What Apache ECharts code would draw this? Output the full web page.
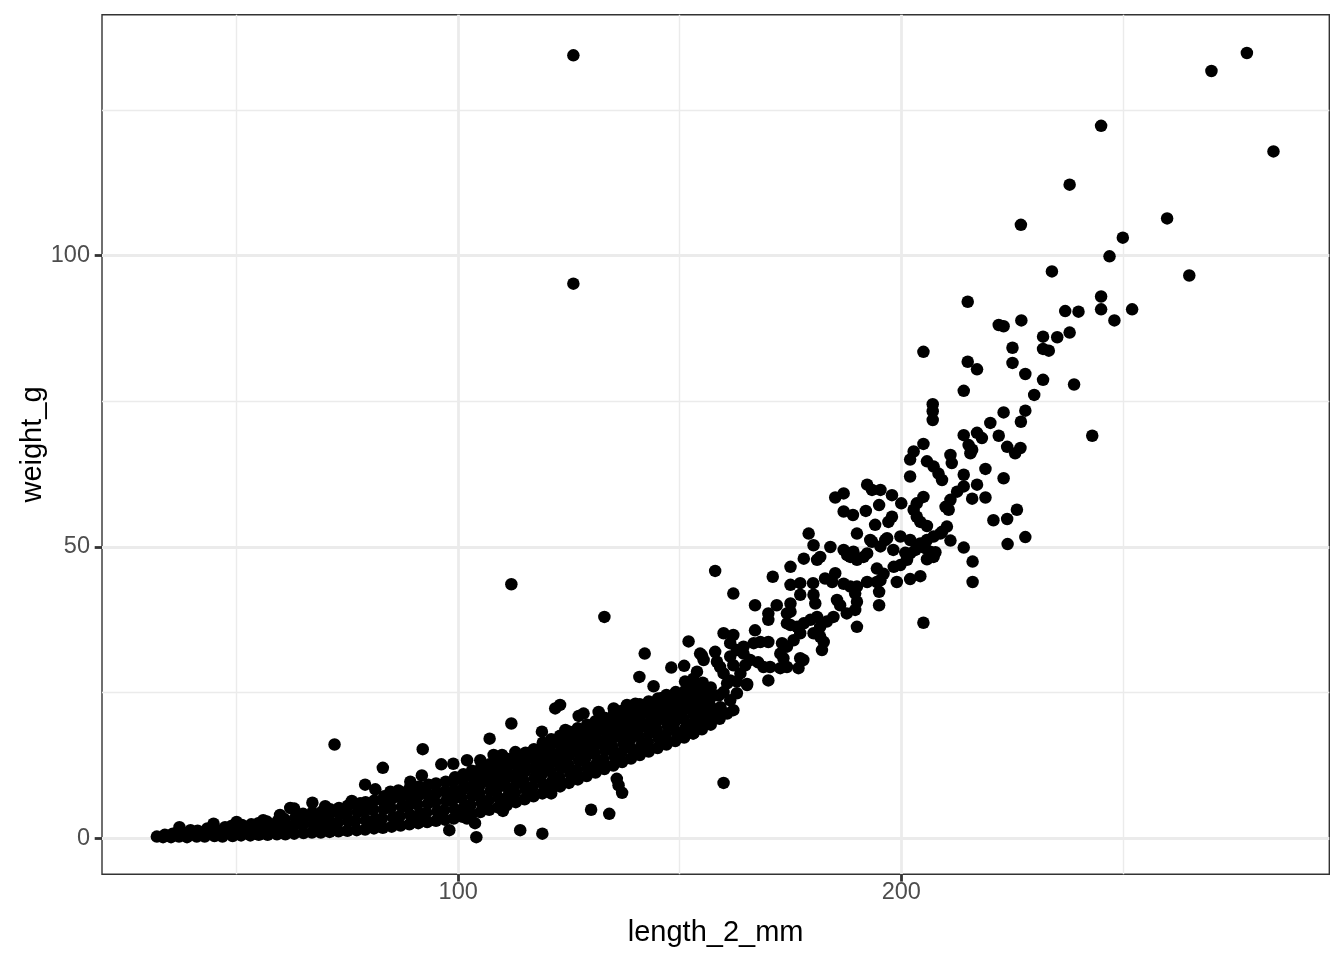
<!DOCTYPE html>
<html>
<head>
<meta charset="utf-8">
<script src="https://cdn.jsdelivr.net/npm/echarts@6/dist/echarts.min.js"></script>
<style>html,body{margin:0;padding:0;background:#fff}#chart{width:1344px;height:960px}</style>
</head>
<body>
<div id="chart"></div>
<script>
// Axis tick labels / gridlines
const xTicks = [100, 200];
const yTicks = [0, 50, 100];
const xMinorGrid = [50, 150, 250];
const yMinorGrid = [25, 75, 125];

// Main dense band of fish (length_2_mm, weight_g)
const bandPoints = [
[33.4,0.2],[33.8,0.6],[35.2,0.2],[35.6,0.8],[37.0,0.3],[37.4,1.1],[38.8,0.2],[39.3,1.0],[39.6,1.4],
[41.0,0.3],[41.2,1.3],[42.8,0.3],[43.1,1.2],[43.4,1.7],[45.0,0.4],[45.3,1.5],[46.8,0.3],[47.0,1.2],[47.4,1.9],
[49.1,0.4],[49.0,1.5],[48.8,2.1],[51.0,0.5],[51.3,1.4],[51.2,2.3],[53.1,0.5],[52.8,1.5],[53.3,2.4],
[55.0,0.6],[55.2,1.6],[54.9,2.6],[57.0,0.6],[57.3,1.8],[56.8,2.9],[59.1,0.7],[58.8,1.9],[59.3,3.0],
[61.0,0.7],[61.2,2.0],[60.8,3.3],[63.0,0.8],[62.8,2.2],[63.3,3.6],
[65.1,0.9],[64.9,2.3],[65.2,3.7],[65.0,4.2],[67.0,1.0],[67.3,2.4],[66.8,3.8],[67.1,4.4],
[69.0,1.0],[69.2,2.5],[68.9,3.9],[69.3,4.6],[71.0,1.1],[71.3,2.6],[70.8,4.0],[71.1,5.0],
[73.0,1.2],[72.8,2.7],[73.3,4.1],[73.1,5.2],[75.0,1.3],[75.2,2.9],[74.8,4.3],[75.1,5.6],
[77.1,1.4],[76.8,3.0],[77.3,4.5],[77.0,5.9],[79.0,1.5],[79.2,3.1],[78.8,4.7],[79.1,6.2],
[81.0,1.7],[81.3,3.3],[80.8,4.9],[81.1,6.5],[83.0,1.8],[82.8,3.4],[83.2,5.0],[83.0,6.5],[83.3,7.2],
[85.0,2.0],[85.3,3.6],[84.8,5.2],[85.1,6.8],[85.2,7.5],[87.0,2.2],[86.8,3.8],[87.3,5.4],[87.0,7.0],[87.1,7.9],
[89.0,2.4],[89.2,4.0],[88.8,5.6],[89.1,7.2],[89.0,8.5],[91.0,2.6],[91.3,4.2],[90.8,5.8],[91.1,7.4],[91.2,8.9],
[93.0,2.8],[92.8,4.4],[93.2,6.0],[93.0,7.6],[93.3,9.2],[95.0,3.0],[95.3,4.6],[94.8,6.2],[95.1,7.8],[95.0,9.4],
[97.0,3.2],[96.8,4.8],[97.3,6.4],[97.0,8.0],[97.2,9.7],
[99.0,3.4],[99.2,5.0],[98.8,6.6],[99.1,8.2],[99.0,9.8],[99.3,10.5],
[101.0,3.7],[101.3,5.3],[100.8,6.9],[101.1,8.5],[101.0,10.1],[101.2,11.0],
[103.0,4.1],[102.8,5.7],[103.2,7.3],[103.0,8.9],[103.3,10.5],[103.1,11.6],
[105.0,4.5],[105.3,6.1],[104.8,7.7],[105.1,9.3],[105.0,10.9],[105.2,12.2],
[107.0,4.9],[106.8,6.5],[107.3,8.1],[107.0,9.7],[107.2,11.3],[107.1,12.7],
[109.0,5.3],[109.2,6.9],[108.8,8.5],[109.1,10.1],[109.0,11.7],[109.3,13.2],
[111.0,5.7],[111.3,7.3],[110.8,8.9],[111.1,10.5],[111.0,12.1],[111.2,13.6],
[113.0,6.2],[112.8,7.8],[113.2,9.4],[113.0,11.0],[113.3,12.6],[113.1,14.1],
[115.0,6.7],[115.3,8.3],[114.8,9.9],[115.1,11.5],[115.0,13.1],[115.2,14.7],
[117.0,7.2],[116.8,8.8],[117.3,10.4],[117.0,12.0],[117.2,13.6],[117.1,15.3],
[119.0,7.7],[119.2,9.3],[118.8,10.9],[119.1,12.5],[119.0,14.1],[119.3,15.7],[119.1,16.4],
[121.0,8.3],[121.3,9.9],[120.8,11.5],[121.1,13.1],[121.0,14.7],[121.2,16.3],[121.0,17.0],
[123.0,8.9],[122.8,10.5],[123.2,12.1],[123.0,13.7],[123.3,15.3],[123.1,16.9],[123.0,17.6],
[125.0,9.5],[125.3,11.1],[124.8,12.7],[125.1,14.3],[125.0,15.9],[125.2,17.5],[125.1,18.3],
[127.0,10.1],[126.8,11.7],[127.3,13.3],[127.0,14.9],[127.2,16.5],[127.1,18.1],[127.0,18.9],
[129.0,10.7],[129.2,12.3],[128.8,13.9],[129.1,15.5],[129.0,17.1],[129.3,18.7],[129.1,19.5],
[131.0,11.3],[131.3,12.9],[130.8,14.5],[131.1,16.1],[131.0,17.7],[131.2,19.3],[131.0,20.1],
[133.0,11.9],[132.8,13.5],[133.2,15.1],[133.0,16.7],[133.3,18.3],[133.1,19.9],[133.0,20.7],
[135.0,12.5],[135.3,14.1],[134.8,15.7],[135.1,17.3],[135.0,18.9],[135.2,20.5],[135.1,21.3],
[137.0,13.1],[136.8,14.7],[137.3,16.3],[137.0,17.9],[137.2,19.5],[137.1,21.1],[137.0,21.9],
[139.0,13.7],[139.2,15.3],[138.8,16.9],[139.1,18.5],[139.0,20.1],[139.3,21.7],[139.1,22.5],
[141.0,14.3],[141.3,15.9],[140.8,17.5],[141.1,19.1],[141.0,20.7],[141.2,22.3],[141.0,23.0],
[143.0,14.9],[142.8,16.5],[143.2,18.1],[143.0,19.7],[143.3,21.3],[143.1,22.9],[143.0,23.5],
[145.0,15.5],[145.3,17.1],[144.8,18.7],[145.1,20.3],[145.0,21.9],[145.2,23.5],[145.1,24.0],
[147.0,16.1],[146.8,17.7],[147.3,19.3],[147.0,20.9],[147.2,22.5],[147.1,24.1],[147.0,24.6],
[149.0,16.7],[149.2,18.3],[148.8,19.9],[149.1,21.5],[149.0,23.1],[149.3,24.6],[149.1,25.1],
[151.0,17.3],[151.3,18.9],[150.8,20.5],[151.1,22.1],[151.0,23.7],[151.2,25.3],
[153.0,18.0],[152.8,19.6],[153.2,21.2],[153.0,22.8],[153.3,24.4],[153.1,26.0],
[155.0,18.7],[155.3,20.3],[154.8,21.9],[155.1,23.5],[155.0,25.1],[155.2,26.7],
[157.0,19.5],[157.2,21.1],[156.9,22.7],[157.1,24.3],[157.0,25.9],
[159.0,20.5],[159.2,22.5],[158.8,24.5]
];

// Scattered fish around and beyond the band
const sparsePoints = [
[167.0,40.0],[171.9,40.0],[170.0,38.6],[170.0,37.5],[174.2,38.6],[167.0,35.7],[174.2,36.9],[162.1,34.9],
[159.9,35.2],[158.0,32.0],[158.4,30.3],[161.4,33.5],[162.9,32.3],[164.4,32.9],[166.7,33.5],[168.2,33.7],
[170.0,33.7],[173.1,33.5],[161.4,31.2],[162.1,29.7],[164.8,29.7],[167.7,30.2],[170.4,29.4],[172.7,29.2],
[174.2,29.4],[161.4,27.1],[162.9,26.9],[165.2,26.5],[170.0,27.1],[159.9,25.1],[161.4,23.7],[162.1,22.0],
[160.7,21.4],[157.6,22.0],[156.1,20.8],[154.6,20.3],[153.1,18.0],[159.9,9.5],[165.9,30.6],[164.4,31.7],
[168.9,29.4],[172.7,31.7],[175.7,34.0],[174.2,32.9],[177.2,35.2],[173.4,30.9],[177.2,30.9],[177.9,30.6],
[176.8,29.2],[159.1,29.4],[159.9,28.3],[160.7,26.6],[162.9,24.9],[165.2,26.3],[154.6,31.7],[155.4,30.6],
[163.7,28.3],[180.2,35.2],[181.7,34.6],[182.5,33.7],[182.1,32.3],[181.0,38.0],[179.5,37.5],[178.0,36.9],
[176.5,36.3],[175.0,36.6],[185.5,40.9],[186.2,40.0],[184.7,38.0],[183.2,37.2],[181.7,36.3],[175.0,40.3],
[175.0,38.9],[175.0,43.5],[177.2,43.8],[180.1,43.8],[177.2,41.8],[180.2,41.8],[180.6,40.3],[171.0,44.9],
[162.1,42.0],[158.0,45.9],[190.0,36.3],[190.0,43.2],[189.6,42.0],[190.0,40.6],[189.6,39.2],[187.7,38.6],
[195.0,42.3],[195.0,40.0],[192.3,44.0],[194.5,44.0],[195.3,44.3],[196.0,45.4],[194.5,46.3],[199.0,44.0],
[202.0,44.5],[204.3,45.0],[199.8,46.9],[198.3,46.6],[185.1,45.5],[187.0,43.7],[188.5,43.2],[182.8,44.6],
[184.4,44.0],[175.0,46.6],[178.0,48.0],[181.0,47.8],[181.7,48.3],[179.1,52.3],[180.2,50.3],[184.0,50.0],
[185.1,58.5],[187.0,59.2],[187.0,56.1],[189.1,55.5],[190.0,52.3],[192.3,60.7],[193.4,59.8],[195.3,59.8],
[197.9,58.9],[200.0,57.5],[195.0,57.2],[192.0,56.2],[197.9,55.2],[197.1,54.3],[194.1,53.8],[187.0,49.5],
[188.5,48.3],[190.0,47.8],[191.5,48.3],[192.3,48.9],[193.0,51.2],[195.3,50.1],[196.4,51.2],[196.8,51.5],
[199.8,51.8],[202.0,51.2],[198.2,49.5],[200.9,49.0],[203.2,49.5],[205.4,49.8],[207.7,49.1],[207.3,48.3],
[205.8,47.9],[204.3,50.6],[205.8,51.2],[207.3,51.8],[208.8,52.3],[210.3,53.5],[211.1,51.1],[214.1,49.9],
[216.1,47.5],[216.1,44.0],[205.0,37.0],[224.0,50.5],[228.0,51.7],[205.0,58.6],[203.5,57.5],[202.8,56.4],
[203.5,55.2],[204.3,54.3],[205.8,53.6],[207.1,71.8],[207.1,73.3],[207.1,74.5],[220.1,71.3],[227.0,71.5],
[214.1,69.2],[217.1,69.6],[218.2,68.7],[222.0,69.1],[205.0,67.7],[202.8,66.4],[202.0,65.0],[205.8,64.7],
[207.3,63.8],[208.4,62.6],[209.2,61.5],[211.1,65.8],[211.4,64.4],[215.2,67.5],[216.0,66.7],[215.6,66.1],
[223.9,67.2],[225.7,66.1],[226.9,67.0],[219.0,63.4],[223.1,61.8],[202.0,62.1],[214.1,62.4],[217.1,60.7],
[214.1,60.4],[212.6,59.5],[211.1,58.1],[210.0,56.9],[210.7,56.4],[219.0,58.5],[216.0,58.3],[226.1,56.4],
[223.9,54.8],[220.8,54.6],[209.2,52.6],[223.1,73.1],[228.0,73.4],[230.0,76.1],[214.1,76.8],[232.0,78.7],
[239.0,77.9],[228.0,79.7],[225.1,81.6],[217.1,80.5],[215.0,81.8],[205.0,83.5],[232.0,84.0],[233.3,83.7],
[225.1,84.2],[232.0,86.1],[235.2,86.0],[238.0,86.8],[222.0,88.1],[223.1,87.9],[227.1,88.9],[237.0,90.5],
[240.0,90.4],[245.1,93.0],[245.1,90.8],[248.1,88.9],[252.1,90.8],[215.0,92.1],[247.0,99.9],[234.0,97.3],
[243.1,69.1],[278.0,134.8],[270.0,131.7],[245.1,122.3],[284.0,117.9],[238.0,112.2],[227.0,105.3],
[260.0,106.4],[250.0,103.1],[265.0,96.6],[201.3,47.8],[202.0,48.9],[206.5,49.2],[189.2,49.2],[193.4,50.9],
[187.8,48.6],[133.0,38.0],[152.0,33.8],[142.1,31.7],[155.0,31.4],[148.1,29.3],[151.0,29.6],[140.9,27.7],
[144.1,26.1],[146.0,24.1],[149.0,24.8],[153.9,28.6],[153.1,27.4],[151.2,26.9],[123.0,22.9],[127.2,21.0],
[128.3,21.4],[131.7,21.7],[135.1,22.3],[138.1,22.9],[140.0,23.1],[143.0,22.9],[121.9,22.3],[112.0,19.7],
[107.1,17.1],[118.9,18.3],[124.2,18.6],[112.0,43.6],[126.0,134.4],[126.0,95.2],[72.1,16.1],[92.0,15.3],
[83.0,12.1],[96.2,12.7],[79.0,9.2],[81.3,8.4],[91.8,10.8],[89.2,9.7],[63.0,5.1],[67.1,6.1],[70.0,5.5],
[76.0,6.4],[77.9,6.0],[98.9,12.8],[102.0,13.4],[105.0,13.4],[108.0,14.3],[109.9,14.3],[112.9,14.8],
[115.5,14.5],[98.0,1.4],[104.1,0.2],[114.0,1.4],[119.0,0.8],[130.0,4.9],[134.1,4.2],[137.0,7.8],[136.2,9.1],
[135.8,10.2],[110.1,4.7],[103.8,2.6],[102.0,3.4],[32.0,0.3],[37.1,1.9],[44.8,2.5],[50.0,2.8],[56.0,3.1],
[59.8,4.0],[62.1,5.2],[84.7,8.0],[86.5,8.2],[121.0,7.7]
];

const FONT = '"Liberation Sans", Arial, Helvetica, sans-serif';
const gridData = [];
xTicks.forEach(v => gridData.push({xAxis: v, lineStyle: {width: 2.8}}));
xMinorGrid.forEach(v => gridData.push({xAxis: v, lineStyle: {width: 1.4}}));
yTicks.forEach(v => gridData.push({yAxis: v, lineStyle: {width: 2.8}}));
yMinorGrid.forEach(v => gridData.push({yAxis: v, lineStyle: {width: 1.4}}));

const chart = echarts.init(document.getElementById('chart'), null, {renderer: 'canvas'});
chart.setOption({
  animation: false,
  backgroundColor: '#ffffff',
  grid: {left: 102, right: 14.7, top: 14.7, bottom: 85.7, show: true, borderColor: '#333333', borderWidth: 1.4, backgroundColor: 'transparent', containLabel: false},
  xAxis: {
    type: 'value', min: 19.62, max: 296.6,
    name: 'length_2_mm', nameLocation: 'middle', nameGap: 44, nameMoveOverlap: false,
    nameTextStyle: {color: '#000000', fontSize: 29, fontFamily: FONT},
    axisLine: {show: false, onZero: false},
    axisTick: {show: true, customValues: xTicks, length: 7.3, lineStyle: {color: '#333333', width: 2.8}},
    axisLabel: {customValues: xTicks, color: '#4D4D4D', fontSize: 23.5, fontFamily: FONT, margin: 6},
    splitLine: {show: false}
  },
  yAxis: {
    type: 'value', min: -6.18, max: 141.37,
    name: 'weight_g', nameLocation: 'middle', nameGap: 55, nameRotate: 90, nameMoveOverlap: false,
    nameTextStyle: {color: '#000000', fontSize: 29, fontFamily: FONT},
    axisLine: {show: false, onZero: false},
    axisTick: {show: true, customValues: yTicks, length: 7.3, lineStyle: {color: '#333333', width: 2.8}},
    axisLabel: {customValues: yTicks, color: '#4D4D4D', fontSize: 23.5, fontFamily: FONT, margin: 12},
    splitLine: {show: false}
  },
  series: [
    {
      type: 'line', data: [], z: 0, silent: true,
      markLine: {z: 0, silent: true, symbol: ['none', 'none'], label: {show: false}, animation: false,
        lineStyle: {color: '#EBEBEB', type: 'solid'}, emphasis: {disabled: true}, data: gridData}
    },
    {
      type: 'scatter', z: 10, symbol: 'circle', symbolSize: 12.5, silent: true,
      itemStyle: {color: '#000000', opacity: 1},
      data: bandPoints.concat(sparsePoints)
    }
  ]
});
</script>
</body>
</html>
